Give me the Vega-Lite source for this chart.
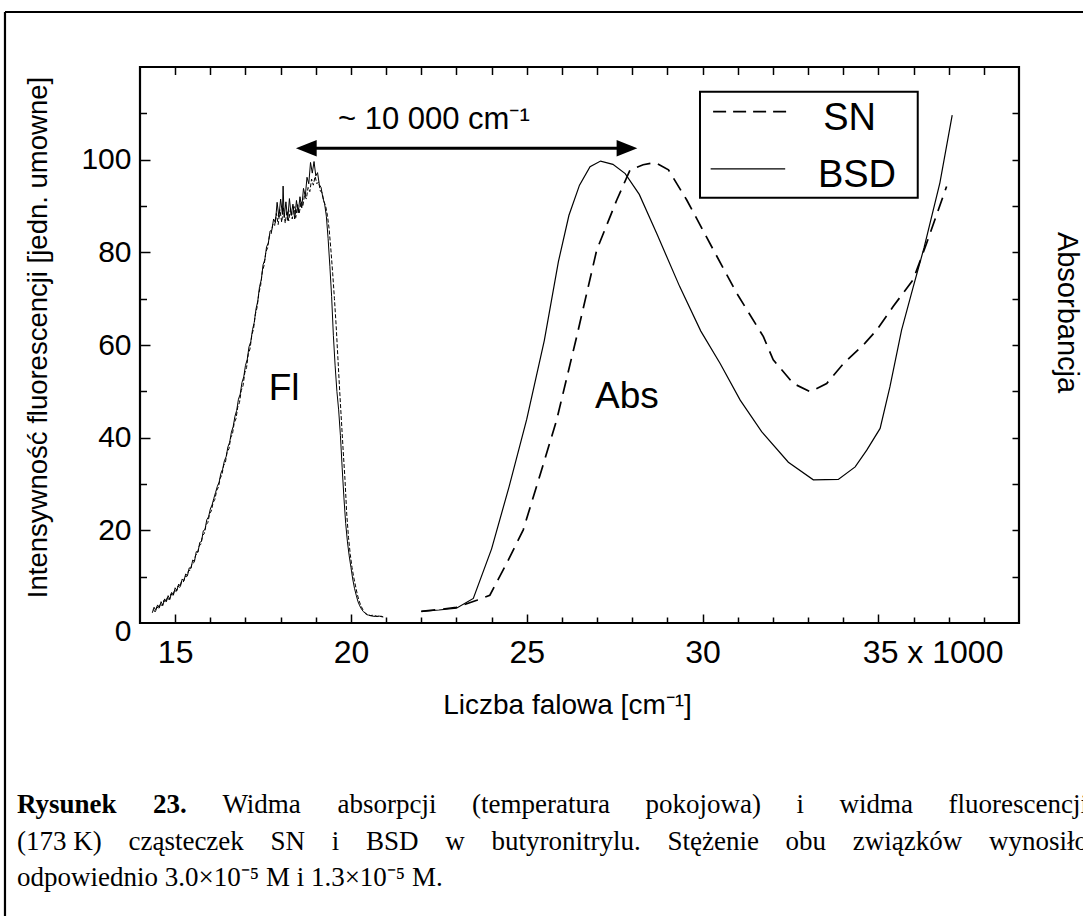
{
  "$schema": "https://vega.github.io/schema/vega-lite/v6.json",
  "width": 879,
  "height": 556,
  "autosize": {"type": "none"},
  "padding": {"left": 140, "top": 67, "right": 64, "bottom": 293},
  "background": "white",
  "config": {
    "view": {"stroke": "black", "strokeWidth": 2.2},
    "axis": {"domain": false, "grid": false, "tickColor": "black", "tickWidth": 1.5, "labelColor": "black", "titleColor": "black", "labelFont": "Liberation Sans", "titleFont": "Liberation Sans", "titleFontWeight": "normal"},
    "text": {"font": "Liberation Sans", "color": "black"}
  },
  "datasets": {
    "flB": [
      {"x":14.35,"y":2.2},{"x":14.40,"y":3.4},{"x":14.45,"y":2.7},{"x":14.50,"y":3.9},{"x":14.55,"y":3.3},{"x":14.60,"y":4.6},{"x":14.65,"y":3.8},{"x":14.70,"y":5.2},{"x":14.75,"y":4.6},{"x":14.80,"y":5.9},{"x":14.85,"y":5.1},{"x":14.90,"y":6.6},{"x":14.95,"y":6.0},{"x":15.00,"y":7.6},{"x":15.05,"y":7.0},{"x":15.10,"y":8.4},{"x":15.15,"y":7.9},{"x":15.20,"y":9.5},{"x":15.25,"y":9.1},{"x":15.30,"y":10.6},{"x":15.35,"y":10.2},{"x":15.40,"y":11.9},{"x":15.45,"y":11.8},{"x":15.50,"y":13.6},{"x":15.55,"y":13.3},{"x":15.60,"y":15.4},{"x":15.65,"y":15.3},{"x":15.70,"y":17.4},{"x":15.75,"y":17.6},{"x":15.80,"y":19.9},{"x":15.85,"y":20.2},{"x":15.90,"y":22.3},{"x":15.95,"y":22.9},{"x":16.00,"y":24.6},{"x":16.05,"y":25.5},{"x":16.10,"y":26.9},{"x":16.15,"y":28.2},{"x":16.20,"y":29.5},{"x":16.25,"y":30.4},{"x":16.30,"y":32.3},{"x":16.35,"y":33.2},{"x":16.40,"y":35.0},{"x":16.45,"y":35.9},{"x":16.50,"y":38.0},{"x":16.55,"y":39.0},{"x":16.60,"y":41.2},{"x":16.65,"y":42.4},{"x":16.70,"y":44.6},{"x":16.75,"y":45.9},{"x":16.80,"y":48.3},{"x":16.85,"y":49.4},{"x":16.90,"y":51.9},{"x":16.95,"y":53.1},{"x":17.00,"y":55.6},{"x":17.05,"y":56.9},{"x":17.10,"y":59.6},{"x":17.15,"y":60.7},{"x":17.20,"y":63.3},{"x":17.25,"y":64.9},{"x":17.30,"y":67.8},{"x":17.35,"y":69.5},{"x":17.40,"y":72.6},{"x":17.45,"y":74.1},{"x":17.50,"y":77.3},{"x":17.55,"y":78.4},{"x":17.60,"y":81.2},{"x":17.65,"y":82.0},{"x":17.70,"y":84.6},{"x":17.75,"y":84.8},{"x":17.80,"y":87.2},{"x":17.85,"y":86.4},{"x":17.90,"y":90.8},{"x":17.95,"y":87.6},{"x":18.00,"y":91.5},{"x":18.05,"y":88.2},{"x":18.07,"y":94.3},{"x":18.10,"y":87.5},{"x":18.15,"y":90.9},{"x":18.20,"y":86.9},{"x":18.25,"y":91.6},{"x":18.30,"y":88.0},{"x":18.35,"y":90.4},{"x":18.40,"y":87.2},{"x":18.45,"y":91.2},{"x":18.50,"y":88.5},{"x":18.55,"y":92.0},{"x":18.60,"y":89.6},{"x":18.65,"y":93.8},{"x":18.70,"y":92.1},{"x":18.75,"y":96.2},{"x":18.80,"y":94.8},{"x":18.85,"y":99.4},{"x":18.90,"y":97.1},{"x":18.95,"y":99.6},{"x":19.00,"y":96.5},{"x":19.05,"y":97.2},{"x":19.10,"y":94.6},{"x":19.15,"y":94.0},{"x":19.20,"y":91.8},{"x":19.25,"y":90.5},{"x":19.30,"y":87.8},{"x":19.35,"y":83.0},{"x":19.40,"y":77.0},{"x":19.45,"y":70.5},{"x":19.50,"y":62.0},{"x":19.55,"y":55.5},{"x":19.60,"y":50.0},{"x":19.65,"y":46.0},{"x":19.70,"y":40.5},{"x":19.75,"y":33.5},{"x":19.80,"y":27.0},{"x":19.85,"y":21.5},{"x":19.90,"y":17.5},{"x":19.95,"y":14.5},{"x":20.00,"y":12.0},{"x":20.05,"y":9.5},{"x":20.10,"y":7.5},{"x":20.15,"y":6.0},{"x":20.20,"y":4.6},{"x":20.25,"y":3.7},{"x":20.30,"y":3.0},{"x":20.35,"y":2.5},{"x":20.40,"y":2.1},{"x":20.45,"y":1.8},{"x":20.50,"y":1.7},{"x":20.60,"y":1.5},{"x":20.70,"y":1.4},{"x":20.80,"y":1.5},{"x":20.90,"y":1.3}
    ],
    "flS": [
      {"x":14.38,"y":2.9},{"x":14.43,"y":2.4},{"x":14.48,"y":3.5},{"x":14.53,"y":3.0},{"x":14.58,"y":4.2},{"x":14.63,"y":3.7},{"x":14.68,"y":4.9},{"x":14.73,"y":4.4},{"x":14.78,"y":5.6},{"x":14.83,"y":5.0},{"x":14.88,"y":6.3},{"x":14.93,"y":5.8},{"x":14.98,"y":7.1},{"x":15.03,"y":6.8},{"x":15.08,"y":8.0},{"x":15.13,"y":7.7},{"x":15.18,"y":9.0},{"x":15.23,"y":8.8},{"x":15.28,"y":10.1},{"x":15.33,"y":10.0},{"x":15.38,"y":11.3},{"x":15.43,"y":11.4},{"x":15.48,"y":12.8},{"x":15.53,"y":13.0},{"x":15.58,"y":14.6},{"x":15.63,"y":14.9},{"x":15.68,"y":16.6},{"x":15.73,"y":17.0},{"x":15.78,"y":18.9},{"x":15.83,"y":19.3},{"x":15.88,"y":21.2},{"x":15.93,"y":21.7},{"x":15.98,"y":23.6},{"x":16.03,"y":24.2},{"x":16.08,"y":26.0},{"x":16.13,"y":26.7},{"x":16.18,"y":28.6},{"x":16.23,"y":29.3},{"x":16.28,"y":31.2},{"x":16.33,"y":32.0},{"x":16.38,"y":34.0},{"x":16.43,"y":34.7},{"x":16.48,"y":37.0},{"x":16.53,"y":37.6},{"x":16.58,"y":40.0},{"x":16.63,"y":40.8},{"x":16.68,"y":43.2},{"x":16.73,"y":44.1},{"x":16.78,"y":46.6},{"x":16.83,"y":47.6},{"x":16.88,"y":50.2},{"x":16.93,"y":51.2},{"x":16.98,"y":54.0},{"x":17.03,"y":55.1},{"x":17.08,"y":58.0},{"x":17.13,"y":59.2},{"x":17.18,"y":62.1},{"x":17.23,"y":63.5},{"x":17.28,"y":66.6},{"x":17.33,"y":68.1},{"x":17.38,"y":71.2},{"x":17.43,"y":72.8},{"x":17.48,"y":75.9},{"x":17.53,"y":77.2},{"x":17.58,"y":80.1},{"x":17.63,"y":81.0},{"x":17.68,"y":83.5},{"x":17.73,"y":84.0},{"x":17.78,"y":86.2},{"x":17.83,"y":85.8},{"x":17.88,"y":88.4},{"x":17.93,"y":86.0},{"x":17.98,"y":89.2},{"x":18.03,"y":86.5},{"x":18.08,"y":89.6},{"x":18.13,"y":86.3},{"x":18.18,"y":89.0},{"x":18.23,"y":86.8},{"x":18.28,"y":89.4},{"x":18.33,"y":87.2},{"x":18.38,"y":89.9},{"x":18.43,"y":87.5},{"x":18.48,"y":90.3},{"x":18.53,"y":88.4},{"x":18.58,"y":91.0},{"x":18.63,"y":89.9},{"x":18.68,"y":92.4},{"x":18.73,"y":91.5},{"x":18.78,"y":94.0},{"x":18.83,"y":93.1},{"x":18.88,"y":95.8},{"x":18.93,"y":94.5},{"x":18.98,"y":96.4},{"x":19.03,"y":94.8},{"x":19.08,"y":95.2},{"x":19.13,"y":93.2},{"x":19.18,"y":92.9},{"x":19.23,"y":91.0},{"x":19.28,"y":90.0},{"x":19.33,"y":88.0},{"x":19.38,"y":85.0},{"x":19.43,"y":80.5},{"x":19.48,"y":75.5},{"x":19.53,"y":70.0},{"x":19.58,"y":64.0},{"x":19.63,"y":57.0},{"x":19.68,"y":50.0},{"x":19.73,"y":43.5},{"x":19.78,"y":37.0},{"x":19.83,"y":31.0},{"x":19.88,"y":23.5},{"x":19.93,"y":18.5},{"x":19.98,"y":14.8},{"x":20.03,"y":12.0},{"x":20.08,"y":9.8},{"x":20.13,"y":8.0},{"x":20.18,"y":6.2},{"x":20.23,"y":4.8},{"x":20.28,"y":3.8},{"x":20.33,"y":3.0},{"x":20.38,"y":2.4},{"x":20.43,"y":2.0},{"x":20.48,"y":1.8},{"x":20.55,"y":1.6},{"x":20.65,"y":1.7},{"x":20.75,"y":1.4},{"x":20.85,"y":1.5},{"x":20.92,"y":1.3}
    ],
    "abB": [
      {"x":22.0,"y":2.5},{"x":22.5,"y":2.8},{"x":23.0,"y":3.2},{"x":23.48,"y":5.3},{"x":24.0,"y":16.0},{"x":24.5,"y":29.5},{"x":25.0,"y":44.0},{"x":25.5,"y":61.0},{"x":25.9,"y":78.0},{"x":26.2,"y":88.0},{"x":26.5,"y":94.5},{"x":26.8,"y":98.5},{"x":27.1,"y":99.7},{"x":27.45,"y":99.0},{"x":27.8,"y":97.0},{"x":28.2,"y":92.5},{"x":28.7,"y":84.0},{"x":29.35,"y":72.6},{"x":29.95,"y":63.0},{"x":30.5,"y":56.0},{"x":31.07,"y":48.1},{"x":31.68,"y":41.3},{"x":32.44,"y":34.7},{"x":33.15,"y":30.9},{"x":33.86,"y":31.0},{"x":34.34,"y":33.7},{"x":34.67,"y":37.3},{"x":35.05,"y":42.0},{"x":35.33,"y":51.0},{"x":35.66,"y":63.2},{"x":35.99,"y":72.5},{"x":36.3,"y":81.0},{"x":36.75,"y":95.0},{"x":37.1,"y":109.6}
    ],
    "abS": [
      {"x":22.0,"y":2.5},{"x":22.5,"y":2.9},{"x":23.0,"y":3.4},{"x":23.58,"y":4.9},{"x":23.95,"y":6.0},{"x":24.43,"y":12.9},{"x":24.9,"y":20.1},{"x":25.38,"y":32.0},{"x":25.85,"y":43.8},{"x":26.42,"y":61.8},{"x":26.99,"y":80.5},{"x":27.56,"y":91.3},{"x":27.94,"y":97.8},{"x":28.31,"y":98.9},{"x":28.65,"y":99.4},{"x":29.03,"y":97.8},{"x":29.55,"y":91.3},{"x":30.31,"y":80.5},{"x":30.97,"y":71.2},{"x":31.73,"y":61.8},{"x":32.01,"y":56.8},{"x":32.58,"y":51.7},{"x":33.06,"y":49.9},{"x":33.53,"y":51.7},{"x":34.01,"y":56.0},{"x":34.62,"y":60.4},{"x":34.95,"y":63.2},{"x":35.42,"y":68.3},{"x":35.99,"y":74.1},{"x":36.37,"y":81.9},{"x":36.94,"y":94.2}
    ]
  },
  "layer": [
    {
      "encoding": {
        "x": {"field": "x", "type": "quantitative", "scale": {"domain": [14, 39], "nice": false, "zero": false},
          "axis": {"orient": "bottom", "title": "Liczba falowa [cm⁻¹]", "ticks": false,
            "values": [15,20,25,30,35],
            "labelExpr": "datum.value === 35 ? '35 x 1000' : datum.label",
            "labelAlign": {"condition": {"test": "datum.value === 35", "value": "left"}, "value": "center"},
            "labelOffset": {"condition": {"test": "datum.value === 35", "value": -16}, "value": 0},
            "labelFontSize": 32, "labelPadding": 14.7, "labelFlush": false, "labelOverlap": false, "labelBound": false,
            "titleFontSize": 28, "titleX": 427, "titleY": 90, "titleAlign": "center", "titleBaseline": "alphabetic"}},
        "y": {"field": "y", "type": "quantitative", "scale": {"domain": [0, 120], "nice": false, "zero": false},
          "axis": {"orient": "left", "title": "Intensywność fluorescencji [jedn. umowne]", "ticks": false,
            "values": [0,20,40,60,80,100],
            "labelOffset": {"condition": {"test": "datum.value === 0", "value": 8}, "value": 0},
            "labelFontSize": 30, "labelPadding": 9, "labelFlush": false, "labelOverlap": false, "labelBound": false,
            "titleFontSize": 27.5, "titleAngle": 270, "titleX": -93.3, "titleY": 270, "titleAlign": "center", "titleBaseline": "alphabetic"}}
      },
      "layer": [
        {"data": {"name": "flB"}, "mark": {"type": "line", "color": "black", "strokeWidth": 1}},
        {"data": {"name": "flS"}, "mark": {"type": "line", "color": "black", "strokeWidth": 1, "strokeDash": [4, 2]}},
        {"data": {"name": "abB"}, "mark": {"type": "line", "color": "black", "strokeWidth": 1.2}},
        {"data": {"name": "abS"}, "mark": {"type": "line", "color": "black", "strokeWidth": 1.7, "strokeDash": [14, 8]}},
        {"data": {"values": [{"x": 18.6, "x2": 28.0, "y": 102.46}]}, "mark": {"type": "rule", "color": "black", "strokeWidth": 3}, "encoding": {"x2": {"field": "x2"}}},
        {"data": {"values": [{"x": 27.85, "y": 102.46}]}, "mark": {"type": "point", "shape": "M 1 0 L -1 -0.8 L -1 0.8 Z", "size": 430, "filled": true, "color": "black", "opacity": 1}},
        {"data": {"values": [{"x": 18.73, "y": 102.46}]}, "mark": {"type": "point", "shape": "M -1 0 L 1 -0.8 L 1 0.8 Z", "size": 430, "filled": true, "color": "black", "opacity": 1}},
        {"data": {"values": [{"x": 19.63, "y": 106.56, "t": "~ 10 000 cm⁻¹"}]}, "mark": {"type": "text", "fontSize": 31, "align": "left", "baseline": "alphabetic"}, "encoding": {"text": {"field": "t"}}},
        {"data": {"values": [{"x": 17.66, "y": 48.13, "t": "Fl"}, {"x": 26.94, "y": 46.34, "t": "Abs"}]}, "mark": {"type": "text", "fontSize": 37, "align": "left", "baseline": "alphabetic"}, "encoding": {"text": {"field": "t"}}},
        {"data": {"values": [{"x": 29.927, "x2": 36.12, "y": 91.8, "y2": 114.68}]}, "mark": {"type": "rect", "fill": "white", "stroke": "black", "strokeWidth": 2}, "encoding": {"x2": {"field": "x2"}, "y2": {"field": "y2"}}},
        {"data": {"values": [{"x": 30.30, "x2": 32.39, "y": 110.36}]}, "mark": {"type": "rule", "color": "black", "strokeWidth": 1.6, "strokeDash": [13, 7]}, "encoding": {"x2": {"field": "x2"}}},
        {"data": {"values": [{"x": 30.23, "x2": 32.35, "y": 98.0}]}, "mark": {"type": "rule", "color": "black", "strokeWidth": 1.3}, "encoding": {"x2": {"field": "x2"}}},
        {"data": {"values": [{"x": 33.43, "y": 106.4, "t": "SN"}, {"x": 33.28, "y": 94.17, "t": "BSD"}]}, "mark": {"type": "text", "fontSize": 38, "align": "left", "baseline": "alphabetic"}, "encoding": {"text": {"field": "t"}}},
        {"data": {"values": [{"x": 10.502, "y": -41.0, "t": "Rysunek"}, {"x": 14.372, "y": -41.0, "t": "23."}]}, "mark": {"type": "text", "font": "Liberation Serif", "fontWeight": "bold", "fontSize": 27, "align": "left", "baseline": "alphabetic"}, "encoding": {"text": {"field": "t"}}},
        {"data": {"values": [
          {"x": 16.343, "y": -41.0, "t": "Widma"}, {"x": 19.615, "y": -41.0, "t": "absorpcji"}, {"x": 23.441, "y": -41.0, "t": "(temperatura"}, {"x": 28.375, "y": -41.0, "t": "pokojowa)"}, {"x": 32.671, "y": -41.0, "t": "i"}, {"x": 33.895, "y": -41.0, "t": "widma"}, {"x": 36.997, "y": -41.0, "t": "fluorescencji"},
          {"x": 10.502, "y": -48.99, "t": "(173 K)"}, {"x": 13.671, "y": -48.99, "t": "cząsteczek"}, {"x": 17.714, "y": -48.99, "t": "SN"}, {"x": 19.455, "y": -48.99, "t": "i"}, {"x": 20.428, "y": -48.99, "t": "BSD"}, {"x": 22.682, "y": -48.99, "t": "w"}, {"x": 23.996, "y": -48.99, "t": "butyronitrylu."}, {"x": 29.001, "y": -48.99, "t": "Stężenie"}, {"x": 32.362, "y": -48.99, "t": "obu"}, {"x": 34.274, "y": -48.99, "t": "związków"}, {"x": 38.146, "y": -48.99, "t": "wynosiło"},
          {"x": 10.502, "y": -56.76, "t": "odpowiednio 3.0×10⁻⁵ M i 1.3×10⁻⁵ M."}
        ]}, "mark": {"type": "text", "font": "Liberation Serif", "fontSize": 27, "align": "left", "baseline": "alphabetic"}, "encoding": {"text": {"field": "t"}}}
      ]
    },
    {
      "data": {"values": [{"x": 10.16, "x2": 41.5, "y": 131.87, "y2": 131.87}, {"x": 10.16, "x2": 10.16, "y": 131.87, "y2": -70}]},
      "mark": {"type": "rule", "color": "black", "strokeWidth": 2.2},
      "encoding": {
        "x": {"field": "x", "type": "quantitative", "scale": {"domain": [14, 39], "nice": false, "zero": false},
          "axis": {"orient": "bottom", "title": null, "labels": false, "values": [15,20,25,30,35], "tickSize": -9}},
        "x2": {"field": "x2"},
        "y": {"field": "y", "type": "quantitative", "scale": {"domain": [0, 120], "nice": false, "zero": false},
          "axis": {"orient": "left", "title": null, "labels": false, "values": [20,40,60,80,100], "tickSize": -10}},
        "y2": {"field": "y2"}
      }
    },
    {
      "data": {"values": [{"x": 20, "y": 50}]},
      "mark": {"type": "point", "opacity": 0},
      "encoding": {
        "x": {"field": "x", "type": "quantitative", "scale": {"domain": [14, 39], "nice": false, "zero": false},
          "axis": {"orient": "bottom", "title": null, "labels": false, "values": [16,17,18,19,21,22,23,24,26,27,28,29,31,32,33,34,36,37,38], "tickSize": -6}},
        "y": {"field": "y", "type": "quantitative", "scale": {"domain": [0, 120], "nice": false, "zero": false},
          "axis": {"orient": "left", "title": null, "labels": false, "values": [10,30,50,70,90,110], "tickSize": -6.5}}
      }
    },
    {
      "data": {"values": [{"x": 20, "y": 50}]},
      "mark": {"type": "point", "opacity": 0},
      "encoding": {
        "x": {"field": "x", "type": "quantitative", "scale": {"domain": [14, 39], "nice": false, "zero": false},
          "axis": {"orient": "top", "title": null, "labels": false, "values": [15,16,17,18,19,20,21,22,23,24,25,26,27,28,29,30,31,32,33,34,35,36,37,38], "tickSize": -7.5}},
        "y": {"field": "y", "type": "quantitative", "scale": {"domain": [0, 120], "nice": false, "zero": false},
          "axis": {"orient": "right", "title": "Absorbancja", "labels": false, "values": [10,20,30,40,50,60,70,80,90,100,110], "tickSize": -7,
            "titleFontSize": 29, "titleAngle": 90, "titleX": 38.5, "titleY": 245, "titleAlign": "center", "titleBaseline": "alphabetic"}}
      }
    }
  ],
  "resolve": {"axis": {"x": "independent", "y": "independent"}}
}
